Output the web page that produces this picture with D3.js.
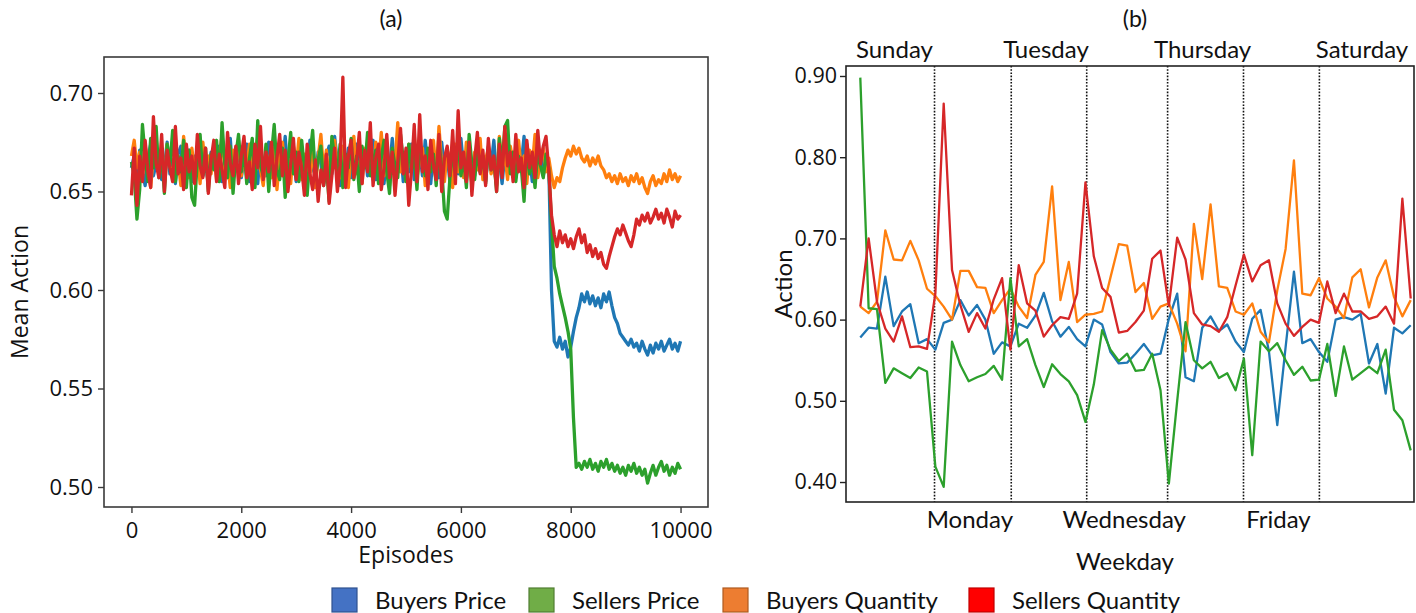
<!DOCTYPE html>
<html><head><meta charset="utf-8">
<script src="https://cdn.jsdelivr.net/npm/d3@7"></script>
<style>body{margin:0;background:#fff}</style>
</head><body>
<svg id="chart" width="1416" height="613"></svg>
<script>
// ---------- shared ----------
const seriesNames = ["Buyers Price", "Sellers Price", "Buyers Quantity", "Sellers Quantity"];
const lineColors = {"Buyers Price": "#1f77b4", "Sellers Price": "#2ca02c", "Buyers Quantity": "#ff7f0e", "Sellers Quantity": "#d62728"};
const legendFill = {"Buyers Price": "#4472C4", "Sellers Price": "#70AD47", "Buyers Quantity": "#ED7D31", "Sellers Quantity": "#FF0000"};
const legendStroke = {"Buyers Price": "#2F528F", "Sellers Price": "#507E32", "Buyers Quantity": "#AE5A21", "Sellers Quantity": "#C00000"};
const drawOrder = ["Buyers Price", "Buyers Quantity", "Sellers Price", "Sellers Quantity"];

// ---------- panel (a): mean action per episode (sampled every 50 episodes) ----------
const episodeStep = 50;
const episodeTicks = [0, 2000, 4000, 6000, 8000, 10000];
const meanActionTicks = [0.50, 0.55, 0.60, 0.65, 0.70];
const buyersPriceA = [
0.662,0.668,0.655,0.671,0.660,0.653,0.667,0.674,0.658,0.664,
0.670,0.656,0.662,0.675,0.659,0.666,0.654,0.669,0.673,0.657,
0.663,0.671,0.655,0.668,0.661,0.676,0.658,0.665,0.654,0.670,
0.666,0.659,0.673,0.655,0.668,0.662,0.677,0.656,0.664,0.671,
0.657,0.666,0.674,0.655,0.669,0.661,0.654,0.672,0.663,0.658,
0.675,0.660,0.667,0.655,0.671,0.664,0.678,0.657,0.662,0.669,
0.655,0.673,0.661,0.667,0.656,0.676,0.662,0.658,0.670,0.664,
0.654,0.668,0.673,0.659,0.678,0.665,0.653,0.669,0.660,0.672,
0.657,0.666,0.674,0.655,0.663,0.671,0.658,0.668,0.676,0.656,
0.664,0.672,0.654,0.669,0.661,0.677,0.659,0.666,0.673,0.655,
0.668,0.660,0.674,0.656,0.665,0.671,0.658,0.676,0.662,0.654,
0.670,0.663,0.657,0.675,0.661,0.668,0.655,0.672,0.666,0.659,
0.677,0.662,0.656,0.670,0.664,0.658,0.673,0.660,0.667,0.655,
0.671,0.663,0.676,0.658,0.666,0.654,0.669,0.674,0.661,0.667,
0.657,0.672,0.664,0.678,0.659,0.668,0.655,0.673,0.662,0.670,
0.658,0.666,0.664,0.600,0.574,0.571,0.576,0.570,0.574,0.566,
0.571,0.579,0.586,0.591,0.598,0.594,0.599,0.593,0.597,0.592,
0.596,0.591,0.598,0.594,0.599,0.592,0.586,0.583,0.578,0.576,
0.574,0.572,0.575,0.571,0.573,0.569,0.574,0.570,0.567,0.572,
0.568,0.573,0.570,0.574,0.569,0.572,0.575,0.570,0.573,0.569,
0.574];
const buyersQuantityA = [
0.668,0.676,0.662,0.670,0.657,0.673,0.665,0.652,0.669,0.677,
0.660,0.667,0.655,0.674,0.663,0.658,0.671,0.666,0.653,0.678,
0.664,0.657,0.672,0.661,0.669,0.654,0.675,0.662,0.668,0.659,
0.673,0.656,0.667,0.679,0.660,0.665,0.652,0.671,0.663,0.676,
0.658,0.669,0.662,0.674,0.655,0.667,0.678,0.661,0.653,0.670,
0.664,0.657,0.672,0.651,0.668,0.675,0.660,0.666,0.654,0.673,
0.662,0.677,0.656,0.669,0.663,0.658,0.674,0.652,0.667,0.679,
0.660,0.671,0.655,0.666,0.676,0.661,0.657,0.673,0.664,0.652,
0.670,0.678,0.659,0.665,0.654,0.672,0.662,0.669,0.656,0.675,
0.663,0.680,0.658,0.667,0.653,0.671,0.664,0.685,0.660,0.668,
0.655,0.674,0.662,0.679,0.657,0.666,0.672,0.653,0.669,0.661,
0.676,0.658,0.683,0.664,0.655,0.671,0.667,0.652,0.674,0.660,
0.668,0.657,0.675,0.663,0.654,0.670,0.661,0.677,0.656,0.666,
0.672,0.659,0.664,0.653,0.678,0.662,0.669,0.656,0.673,0.665,
0.658,0.676,0.661,0.668,0.654,0.671,0.663,0.679,0.657,0.666,
0.672,0.660,0.667,0.658,0.652,0.657,0.655,0.662,0.667,0.671,
0.668,0.673,0.669,0.672,0.667,0.665,0.668,0.663,0.667,0.664,
0.668,0.663,0.661,0.657,0.659,0.655,0.658,0.654,0.659,0.655,
0.657,0.653,0.658,0.655,0.659,0.654,0.657,0.652,0.649,0.655,
0.658,0.653,0.656,0.654,0.659,0.655,0.661,0.656,0.659,0.655,
0.658];
const sellersPriceA = [
0.665,0.658,0.636,0.651,0.684,0.668,0.655,0.677,0.662,0.683,
0.657,0.670,0.649,0.674,0.663,0.681,0.655,0.668,0.660,0.676,
0.652,0.671,0.647,0.643,0.666,0.679,0.658,0.672,0.650,0.669,
0.661,0.676,0.655,0.685,0.664,0.657,0.673,0.649,0.668,0.679,
0.660,0.671,0.654,0.667,0.677,0.652,0.686,0.663,0.658,0.674,
0.650,0.669,0.684,0.661,0.656,0.672,0.647,0.665,0.680,0.659,
0.670,0.655,0.676,0.662,0.648,0.668,0.681,0.657,0.666,0.673,
0.653,0.663,0.645,0.678,0.667,0.659,0.674,0.652,0.669,0.662,
0.677,0.656,0.668,0.650,0.673,0.662,0.680,0.658,0.665,0.671,
0.654,0.667,0.676,0.660,0.649,0.672,0.663,0.657,0.679,0.666,
0.655,0.674,0.661,0.668,0.651,0.677,0.664,0.658,0.672,0.660,
0.669,0.653,0.676,0.662,0.640,0.636,0.657,0.670,0.663,0.675,
0.658,0.667,0.652,0.679,0.664,0.656,0.671,0.660,0.668,0.654,
0.673,0.661,0.666,0.650,0.677,0.663,0.683,0.686,0.659,0.670,
0.655,0.668,0.662,0.645,0.674,0.659,0.666,0.652,0.671,0.663,
0.657,0.669,0.662,0.634,0.612,0.606,0.598,0.592,0.586,0.579,
0.570,0.535,0.510,0.512,0.509,0.513,0.510,0.514,0.509,0.512,
0.508,0.513,0.510,0.514,0.509,0.512,0.508,0.511,0.507,0.510,
0.506,0.511,0.508,0.512,0.507,0.510,0.506,0.509,0.502,0.507,
0.511,0.506,0.510,0.513,0.508,0.511,0.506,0.510,0.507,0.512,
0.509];
const sellersQuantityA = [
0.648,0.672,0.643,0.668,0.655,0.676,0.660,0.652,0.688,0.664,
0.657,0.679,0.650,0.671,0.662,0.655,0.683,0.659,0.667,0.651,
0.674,0.660,0.668,0.654,0.679,0.663,0.657,0.672,0.649,0.666,
0.676,0.655,0.669,0.661,0.652,0.680,0.664,0.658,0.673,0.654,
0.668,0.678,0.657,0.665,0.651,0.674,0.662,0.683,0.656,0.670,
0.660,0.675,0.653,0.667,0.679,0.658,0.671,0.650,0.664,0.677,
0.656,0.670,0.662,0.648,0.674,0.659,0.651,0.666,0.645,0.661,
0.653,0.669,0.644,0.658,0.672,0.650,0.663,0.708,0.652,0.668,
0.676,0.657,0.665,0.680,0.654,0.671,0.660,0.685,0.653,0.667,
0.674,0.651,0.662,0.679,0.657,0.670,0.648,0.665,0.682,0.659,
0.672,0.643,0.661,0.684,0.655,0.689,0.660,0.668,0.651,0.676,
0.663,0.656,0.679,0.650,0.667,0.673,0.658,0.681,0.654,0.691,
0.662,0.670,0.655,0.675,0.648,0.666,0.680,0.659,0.671,0.653,
0.677,0.661,0.668,0.650,0.674,0.657,0.683,0.663,0.670,0.655,
0.679,0.660,0.667,0.652,0.676,0.662,0.670,0.657,0.681,0.664,
0.673,0.678,0.661,0.638,0.628,0.622,0.630,0.624,0.628,0.622,
0.626,0.621,0.627,0.631,0.624,0.628,0.619,0.623,0.617,0.621,
0.616,0.619,0.613,0.611,0.617,0.622,0.627,0.631,0.628,0.633,
0.629,0.625,0.622,0.628,0.636,0.633,0.638,0.635,0.639,0.634,
0.637,0.641,0.636,0.639,0.634,0.641,0.637,0.632,0.640,0.636,
0.638];

// ---------- panel (b): action over the week ----------
const weekdays = ["Sunday", "Monday", "Tuesday", "Wednesday", "Thursday", "Friday", "Saturday"];
const dayBoundaries = [8.9, 18.1, 27.15, 36.85, 45.95, 55.05]; // sample index at which each new day starts
const actionTicks = [0.40, 0.50, 0.60, 0.70, 0.80, 0.90];
const buyersPriceB = [
0.578,0.590,0.589,0.653,0.592,0.610,0.619,0.571,0.576,0.563,
0.596,0.600,0.624,0.605,0.618,0.600,0.558,0.572,0.567,0.595,
0.590,0.605,0.633,0.598,0.579,0.591,0.576,0.567,0.600,0.594,
0.560,0.546,0.547,0.558,0.570,0.556,0.558,0.601,0.632,0.529,
0.524,0.590,0.604,0.586,0.594,0.573,0.560,0.601,0.612,0.561,
0.470,0.566,0.659,0.571,0.576,0.560,0.548,0.600,0.603,0.600,
0.607,0.546,0.570,0.509,0.590,0.583,0.593];
const sellersPriceB = [
0.898,0.614,0.613,0.522,0.540,0.534,0.528,0.541,0.536,0.419,
0.394,0.573,0.544,0.524,0.529,0.533,0.543,0.526,0.651,0.567,
0.576,0.544,0.517,0.545,0.533,0.524,0.507,0.474,0.520,0.587,
0.563,0.549,0.558,0.537,0.538,0.558,0.513,0.398,0.500,0.597,
0.550,0.540,0.548,0.528,0.534,0.513,0.552,0.433,0.573,0.561,
0.571,0.550,0.532,0.542,0.525,0.526,0.570,0.506,0.567,0.526,
0.534,0.542,0.534,0.563,0.489,0.476,0.439];
const buyersQuantityB = [
0.616,0.608,0.622,0.710,0.674,0.673,0.697,0.673,0.638,0.629,
0.616,0.600,0.660,0.660,0.640,0.639,0.608,0.624,0.638,0.616,
0.602,0.655,0.671,0.764,0.624,0.671,0.597,0.606,0.607,0.610,
0.652,0.693,0.691,0.634,0.645,0.601,0.616,0.620,0.595,0.561,
0.718,0.650,0.742,0.641,0.639,0.610,0.606,0.620,0.585,0.572,
0.636,0.687,0.796,0.632,0.630,0.651,0.626,0.616,0.602,0.652,
0.662,0.615,0.652,0.673,0.628,0.604,0.624];
const sellersQuantityB = [
0.616,0.700,0.622,0.589,0.573,0.604,0.566,0.567,0.564,0.632,
0.866,0.661,0.618,0.585,0.608,0.589,0.625,0.651,0.563,0.667,
0.620,0.611,0.579,0.593,0.603,0.601,0.632,0.769,0.678,0.639,
0.628,0.584,0.586,0.597,0.611,0.675,0.685,0.617,0.701,0.674,
0.608,0.594,0.592,0.585,0.603,0.642,0.680,0.647,0.667,0.673,
0.620,0.595,0.580,0.591,0.600,0.596,0.647,0.608,0.632,0.610,
0.610,0.601,0.604,0.616,0.595,0.749,0.626];

const seriesA = {"Buyers Price": buyersPriceA, "Sellers Price": sellersPriceA, "Buyers Quantity": buyersQuantityA, "Sellers Quantity": sellersQuantityA};
const seriesB = {"Buyers Price": buyersPriceB, "Sellers Price": sellersPriceB, "Buyers Quantity": buyersQuantityB, "Sellers Quantity": sellersQuantityB};

const svg = d3.select("#chart");
const tickFont = "'Open Sans', sans-serif";
const labelFont = "Lato, 'Open Sans', sans-serif";

// ===== Panel (a) =====
const A = {left: 104, right: 708, top: 57, bottom: 507};
const xA = d3.scaleLinear().domain([-500, 10500]).range([A.left, A.right]);
const yA = d3.scaleLinear().domain([0.48985, 0.71827]).range([A.bottom, A.top]);

const gA = svg.append("g");
svg.append("clipPath").attr("id", "clipA").append("rect")
  .attr("x", A.left).attr("y", A.top).attr("width", A.right - A.left).attr("height", A.bottom - A.top);

const lineA = d3.line().x((d, i) => xA(i * episodeStep)).y(d => yA(d));
const linesA = gA.append("g").attr("clip-path", "url(#clipA)");
drawOrder.forEach(name => {
  linesA.append("path").datum(seriesA[name])
    .attr("d", lineA).attr("fill", "none")
    .attr("stroke", lineColors[name]).attr("stroke-width", 3.3)
    .attr("stroke-linejoin", "round");
});

gA.append("rect").attr("x", A.left).attr("y", A.top)
  .attr("width", A.right - A.left).attr("height", A.bottom - A.top)
  .attr("fill", "none").attr("stroke", "#3a3a3a").attr("stroke-width", 1.6);

const axA_x = gA.append("g").attr("transform", `translate(0,${A.bottom})`)
  .call(d3.axisBottom(xA).tickValues(episodeTicks).tickFormat(d3.format("d")).tickSize(6).tickSizeOuter(0));
const axA_y = gA.append("g").attr("transform", `translate(${A.left},0)`)
  .call(d3.axisLeft(yA).tickValues(meanActionTicks).tickFormat(d3.format(".2f")).tickSize(6).tickSizeOuter(0));
[axA_x, axA_y].forEach(ax => {
  ax.select(".domain").remove();
  ax.selectAll("line").attr("stroke", "#3a3a3a").attr("stroke-width", 1.4);
  ax.selectAll("text").attr("font-family", tickFont).attr("font-size", 22).attr("fill", "#111");
});
axA_x.selectAll("text").attr("dy", "1.0em");
axA_y.selectAll("text").attr("x", -11);

gA.append("text").attr("x", 406).attr("y", 563).attr("text-anchor", "middle")
  .attr("font-family", tickFont).attr("font-size", 23).attr("fill", "#111").text("Episodes");
gA.append("text").attr("transform", "translate(28,292) rotate(-90)").attr("text-anchor", "middle")
  .attr("font-family", tickFont).attr("font-size", 23).attr("fill", "#111").text("Mean Action");
gA.append("text").attr("x", 391).attr("y", 27).attr("text-anchor", "middle")
  .attr("font-family", labelFont).attr("font-size", 23).attr("fill", "#111").text("(a)");

// ===== Panel (b) =====
const B = {left: 846, right: 1414, top: 66, bottom: 502};
const nB = buyersPriceB.length;
const xB = d3.scaleLinear().domain([0, nB - 1]).range([860.3, 1410.7]);
const yB = d3.scaleLinear().domain([0.3754, 0.9123]).range([B.bottom, B.top]);
const gB = svg.append("g");

// day separators
gB.selectAll(".sep").data(dayBoundaries).enter().append("line")
  .attr("x1", d => xB(d)).attr("x2", d => xB(d))
  .attr("y1", B.top).attr("y2", B.bottom)
  .attr("stroke", "#111").attr("stroke-width", 1.6).attr("stroke-dasharray", "1.6,1.6");

const lineB = d3.line().x((d, i) => xB(i)).y(d => yB(d));
drawOrder.forEach(name => {
  gB.append("path").datum(seriesB[name])
    .attr("d", lineB).attr("fill", "none")
    .attr("stroke", lineColors[name]).attr("stroke-width", 2.3)
    .attr("stroke-linejoin", "round");
});

gB.append("rect").attr("x", B.left).attr("y", B.top)
  .attr("width", B.right - B.left).attr("height", B.bottom - B.top)
  .attr("fill", "none").attr("stroke", "#222").attr("stroke-width", 1.6);

const axB_y = gB.append("g").attr("transform", `translate(${B.left},0)`)
  .call(d3.axisLeft(yB).tickValues(actionTicks).tickFormat(d3.format(".2f")).tickSize(6).tickSizeOuter(0));
axB_y.select(".domain").remove();
axB_y.selectAll("line").attr("stroke", "#222").attr("stroke-width", 1.4);
axB_y.selectAll("text").attr("x", -9).attr("font-family", tickFont).attr("font-size", 21.5).attr("fill", "#111");

// weekday labels: even days above, odd days below
const dayStarts = [0, ...dayBoundaries];
const dayEnds = [...dayBoundaries, nB - 1];
weekdays.forEach((day, i) => {
  const mid = xB((dayStarts[i] + dayEnds[i]) / 2) - 3;
  const top = i % 2 === 0;
  gB.append("text").attr("x", mid).attr("y", top ? 58 : 528)
    .attr("text-anchor", "middle").attr("font-family", labelFont).attr("font-size", 24)
    .attr("fill", "#111").text(day);
});

gB.append("text").attr("x", 1125).attr("y", 570).attr("text-anchor", "middle")
  .attr("font-family", labelFont).attr("font-size", 24).attr("fill", "#111").text("Weekday");
gB.append("text").attr("transform", "translate(792,284) rotate(-90)").attr("text-anchor", "middle")
  .attr("font-family", labelFont).attr("font-size", 24).attr("fill", "#111").text("Action");
gB.append("text").attr("x", 1135).attr("y", 27).attr("text-anchor", "middle")
  .attr("font-family", labelFont).attr("font-size", 23).attr("fill", "#111").text("(b)");

// ===== Legend =====
const legendX = [332, 529, 723, 969];
const legend = svg.append("g");
seriesNames.forEach((name, i) => {
  legend.append("rect").attr("x", legendX[i]).attr("y", 588).attr("width", 25).attr("height", 24)
    .attr("fill", legendFill[name]).attr("stroke", legendStroke[name]).attr("stroke-width", 1.2);
  legend.append("text").attr("x", legendX[i] + 43).attr("y", 609)
    .attr("font-family", labelFont).attr("font-size", 24).attr("fill", "#111").text(name);
});
</script>
</body></html>
